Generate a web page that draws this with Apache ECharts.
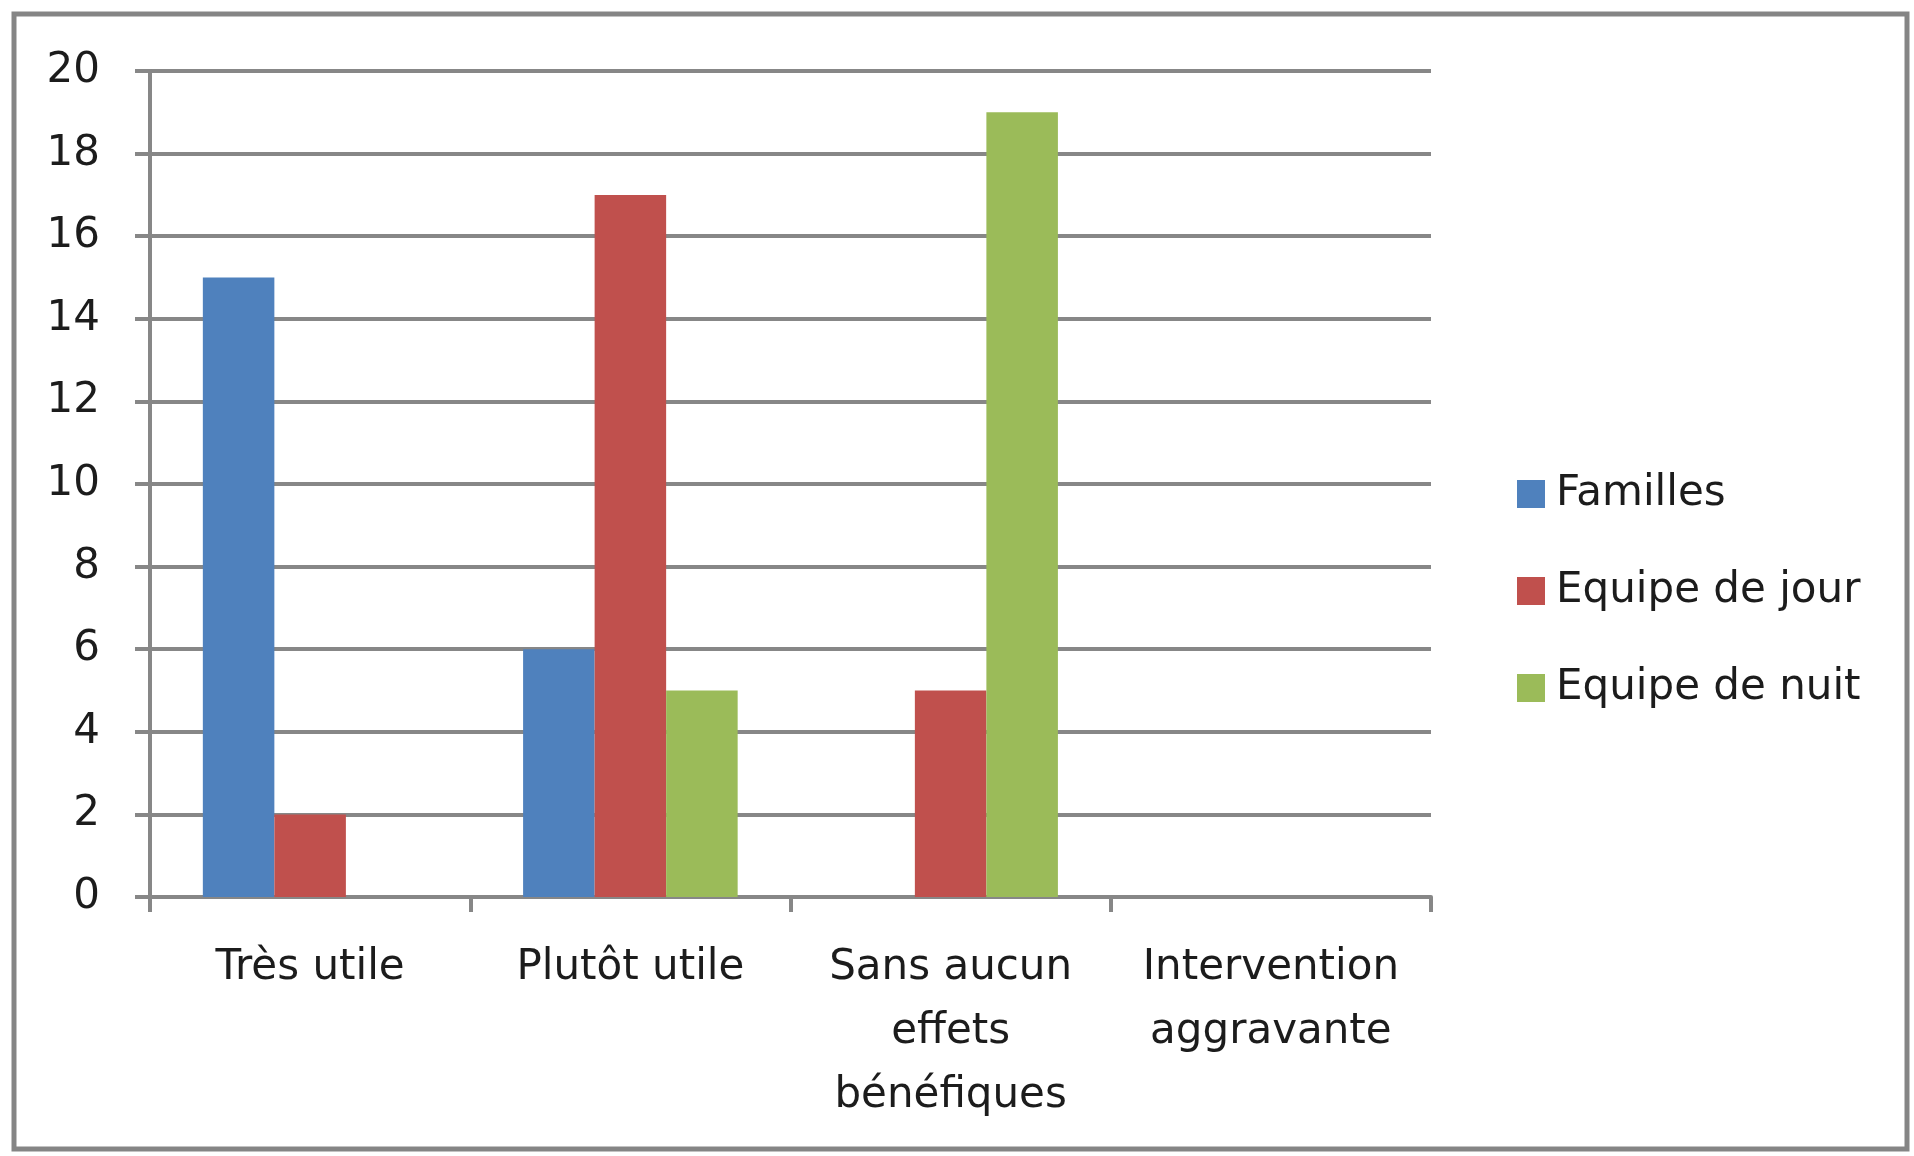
<!DOCTYPE html>
<html>
<head>
<meta charset="utf-8">
<title>Appréciation de l'intervention</title>
<script src="https://cdn.jsdelivr.net/npm/echarts@6/dist/echarts.min.js"></script>
<style>
  html, body { margin: 0; padding: 0; background: #ffffff; }
  #chart { width: 1914px; height: 1156px; }
</style>
</head>
<body>
<div id="chart"></div>
<script>
// Response categories (x axis)
const categories = ['Très utile', 'Plutôt utile', 'Sans aucun\neffets\nbénéfiques', 'Intervention\naggravante'];

// Counts per respondent group
const familles = [15, 6, 0, 0];
const equipeJour = [2, 17, 5, 0];
const equipeNuit = [0, 5, 19, 0];

const seriesNames = ['Familles', 'Equipe de jour', 'Equipe de nuit'];
const seriesColors = ['#4F81BD', '#C0504D', '#9BBB59'];

// Value axis range
const yMin = 0;
const yMax = 20;
const yStep = 2;

const FONT = 'DejaVu Sans';
const TEXT = '#1c1c1c';
const LINE = '#878787';

const chart = echarts.init(document.getElementById('chart'), null, { renderer: 'canvas' });

const seriesData = [familles, equipeJour, equipeNuit];

chart.setOption({
  animation: false,
  backgroundColor: '#ffffff',
  textStyle: { fontFamily: FONT },
  graphic: [{
    type: 'rect',
    shape: { x: 14, y: 14, width: 1893, height: 1135 },
    style: { fill: 'none', stroke: '#858585', lineWidth: 5 },
    silent: true
  }],
  legend: {
    orient: 'vertical',
    left: 1512,
    top: 468,
    itemWidth: 28,
    itemHeight: 28,
    itemGap: 55,
    icon: 'rect',
    data: seriesNames,
    textStyle: { fontFamily: FONT, fontSize: 42, color: TEXT, lineHeight: 40, padding: [0, 0, 0, 6] }
  },
  grid: { left: 150, right: 483, top: 71, bottom: 259, containLabel: false },
  xAxis: {
    type: 'category',
    data: categories,
    boundaryGap: true,
    axisLine: { show: true, lineStyle: { color: LINE, width: 4 } },
    axisTick: { show: true, alignWithLabel: false, length: 15, lineStyle: { color: LINE, width: 4 } },
    axisLabel: {
      interval: 0,
      margin: 39,
      fontFamily: FONT,
      fontSize: 42,
      lineHeight: 64,
      color: TEXT,
      align: 'center'
    },
    splitLine: { show: false }
  },
  yAxis: {
    type: 'value',
    min: yMin,
    max: yMax,
    interval: yStep,
    axisLine: { show: true, lineStyle: { color: LINE, width: 4 } },
    axisTick: { show: true, length: 15, lineStyle: { color: LINE, width: 4 } },
    axisLabel: { margin: 50, fontFamily: FONT, fontSize: 42, color: TEXT },
    splitLine: { show: true, lineStyle: { color: LINE, width: 4 } }
  },
  series: seriesNames.map((name, i) => ({
    name: name,
    type: 'bar',
    data: seriesData[i],
    barGap: '0%',
    barCategoryGap: '33%',
    itemStyle: { color: seriesColors[i] }
  }))
});
</script>
</body>
</html>
